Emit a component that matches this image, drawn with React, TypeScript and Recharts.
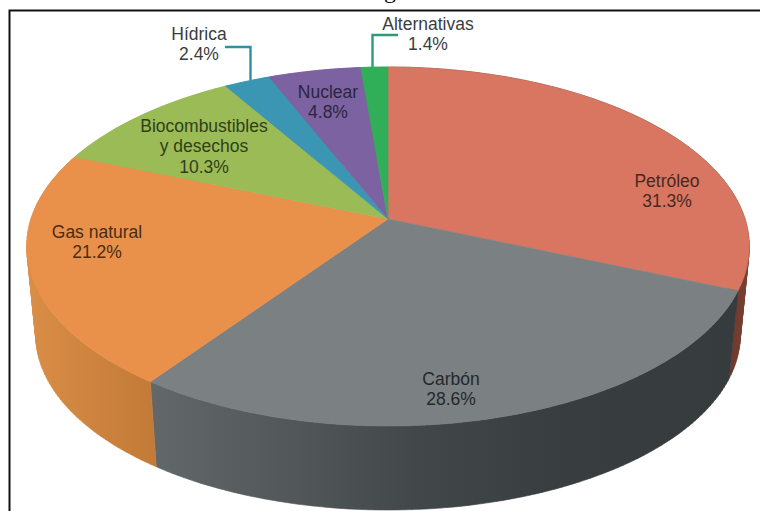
import React from 'react';
import { PieChart, Pie, Cell } from 'recharts';

const categories = ['Petróleo', 'Carbón', 'Gas natural', 'Biocombustibles|y desechos', 'Hídrica', 'Nuclear', 'Alternativas'];
const shares = [31.3, 28.6, 21.2, 10.3, 2.4, 4.8, 1.4];
const topColors = ['#d87661', '#7b8083', '#e9914a', '#9bbb56', '#3b96b3', '#7c62a0', '#30ae58'];
const textColors = ['#4a2820', '#25282b', '#4a2c14', '#2f3f1c', '#3a3d40', '#2c2540', '#3a3d40'];

const data = categories.map((name, i) => ({ name, value: shares[i] }));

// first baseline of every label, one per category
const labelAnchors = [
	[667, 187],
	[451, 385],
	[97, 238],
	[204, 132],
	[199, 40],
	[328, 98],
	[428, 30],
];

const WIDTH = 760;
const HEIGHT = 511;
const FONT_SIZE = 17.5;
const LINE_HEIGHT = 20.3;

// perspective of the disc: tilt squashes y, k pulls the near edge towards the viewer
const TILT = 0.491;
const K = 0.1532;
// bottom rim of the disc, relative to the top rim
const RIM_SCALE = 0.975;
const RIM_CENTER_Y = 246.5;
const RIM_DROP = 88.5;

type Pt = { x: number; y: number };

function project(cx: number, cy: number, r: number, deg: number): Pt {
	const a = (deg * Math.PI) / 180;
	const u = Math.cos(a);
	const v = -Math.sin(a);
	const w = 1 - K * v;
	return { x: cx + (r * u) / w, y: cy + (r * TILT * v) / w };
}

function rim(cx: number, cy: number, r: number, start: number, end: number) {
	const steps = Math.max(2, Math.ceil(Math.abs(end - start)));
	const pts: Pt[] = [];
	for (let i = 0; i <= steps; i++) {
		pts.push(project(cx, cy, r, start + ((end - start) * i) / steps));
	}
	return pts;
}

function lower(p: Pt, cx: number): Pt {
	return {
		x: cx + (p.x - cx) * RIM_SCALE,
		y: RIM_CENTER_Y + RIM_DROP + (p.y - RIM_CENTER_Y) * RIM_SCALE,
	};
}

const toPath = (pts: Pt[]) =>
	pts.map((p, i) => `${i === 0 ? 'M' : 'L'}${p.x.toFixed(1)},${p.y.toFixed(1)}`).join(' ') + ' Z';

function signedArea(pts: Pt[]) {
	let sum = 0;
	pts.forEach((p, i) => {
		const q = pts[(i + 1) % pts.length];
		sum += p.x * q.y - q.x * p.y;
	});
	return sum;
}

function TopFace(props: any) {
	const { cx, cy, outerRadius, startAngle, endAngle, fill } = props;
	const pts = [{ x: cx, y: cy }, ...rim(cx, cy, outerRadius, startAngle, endAngle)];
	return <path d={toPath(pts)} fill={fill} stroke={fill} strokeWidth={0.6} />;
}

// one small quad per degree, all wound the same way, so the silhouette at the
// far left and right of the disc is filled too
function SideFace(props: any) {
	const { cx, cy, outerRadius, startAngle, endAngle, fill } = props;
	const upper = rim(cx, cy, outerRadius, startAngle, endAngle);
	const parts: string[] = [];
	for (let i = 0; i < upper.length - 1; i++) {
		const quad = [upper[i], upper[i + 1], lower(upper[i + 1], cx), lower(upper[i], cx)];
		parts.push(toPath(signedArea(quad) < 0 ? quad.reverse() : quad));
	}
	return <path d={parts.join(' ')} fill={fill} stroke={fill} strokeWidth={0.6} />;
}

function renderLabel(props: any) {
	const { index, value } = props;
	const [x, y] = labelAnchors[index];
	const lines = [...categories[index].split('|'), `${value.toFixed(1)}%`];
	return (
		<text
			key={index}
			x={x}
			y={y}
			textAnchor="middle"
			fontFamily="'Liberation Sans', Arial, sans-serif"
			fontSize={FONT_SIZE}
			fill={textColors[index]}
		>
			{lines.map((line, i) => (
				<tspan key={i} x={x} y={y + i * LINE_HEIGHT}>
					{line}
				</tspan>
			))}
		</text>
	);
}

export default function App() {
	return (
		<div style={{ position: 'absolute', left: 0, top: 0, width: WIDTH, height: HEIGHT, background: '#fff' }}>
			<PieChart width={WIDTH} height={HEIGHT} margin={{ top: 0, right: 0, bottom: 0, left: 0 }}>
				<defs>
					<linearGradient id="side-0" gradientUnits="userSpaceOnUse" x1="730" y1="0" x2="750" y2="0">
						<stop offset="0" stopColor="#6e3a2d" />
						<stop offset="1" stopColor="#7a4031" />
					</linearGradient>
					<linearGradient id="side-1" gradientUnits="userSpaceOnUse" x1="152" y1="0" x2="738" y2="0">
						<stop offset="0" stopColor="#62676a" />
						<stop offset="0.25" stopColor="#515659" />
						<stop offset="0.45" stopColor="#42474a" />
						<stop offset="0.7" stopColor="#383d3f" />
						<stop offset="1" stopColor="#363b3d" />
					</linearGradient>
					<linearGradient id="side-2" gradientUnits="userSpaceOnUse" x1="26" y1="0" x2="156" y2="0">
						<stop offset="0" stopColor="#da8e47" />
						<stop offset="1" stopColor="#c27a37" />
					</linearGradient>
				</defs>
				<Pie
					data={data}
					dataKey="value"
					nameKey="name"
					cx={388}
					cy={219}
					outerRadius={357}
					startAngle={90}
					endAngle={-270}
					stroke="none"
					shape={SideFace}
					label={false}
					labelLine={false}
					isAnimationActive={false}
				>
					{data.map((d, i) => (
						<Cell key={d.name} fill={i < 3 ? `url(#side-${i})` : topColors[i]} />
					))}
				</Pie>
				<Pie
					data={data}
					dataKey="value"
					nameKey="name"
					cx={388}
					cy={219}
					outerRadius={357}
					startAngle={90}
					endAngle={-270}
					stroke="none"
					shape={TopFace}
					label={renderLabel}
					labelLine={false}
					isAnimationActive={false}
				>
					{data.map((d, i) => (
						<Cell key={d.name} fill={topColors[i]} />
					))}
				</Pie>
				{/* leader lines of the two thin slices */}
				<polyline points="225,47 250.5,47 250.5,80" fill="none" stroke="#2f8fa3" strokeWidth={2.4} />
				<polyline points="398,35 372.5,35 372.5,67" fill="none" stroke="#2f9a78" strokeWidth={2.4} />
				{/* page frame, and what is left of the caption above it */}
				<polyline points="9.5,511 9.5,10.5 760,10.5" fill="none" stroke="#111" strokeWidth={2} />
				<text x={384} y={-2} fontFamily="'Liberation Serif', serif" fontSize={24} fill="#111">
					g
				</text>
			</PieChart>
		</div>
	);
}
